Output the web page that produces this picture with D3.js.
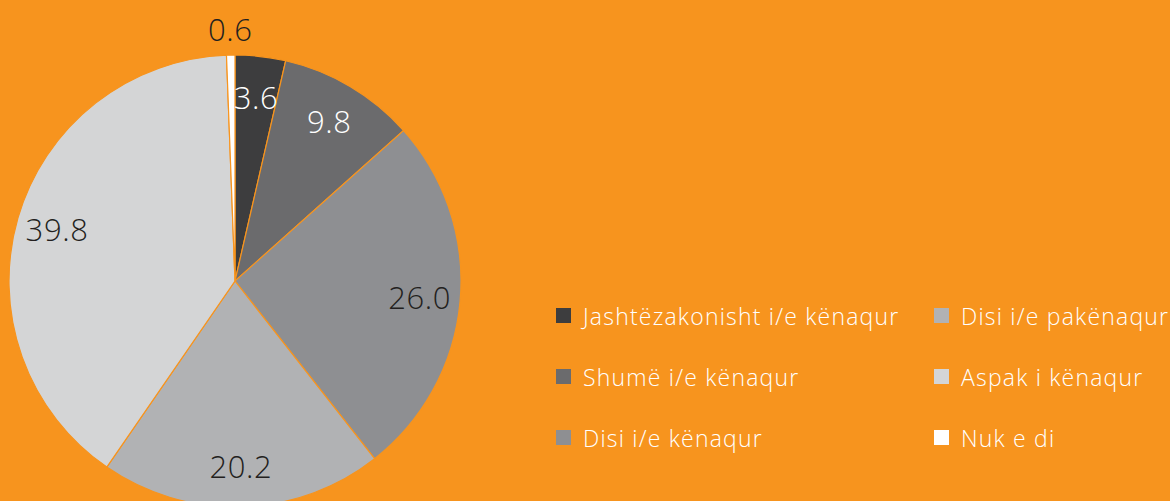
<!DOCTYPE html>
<html>
<head>
<meta charset="utf-8">
<script src="https://cdn.jsdelivr.net/npm/d3@7"></script>
<style>
  html, body { margin: 0; padding: 0; background: #f7941e; overflow: hidden; }
  text { font-family: "Open Sans", sans-serif; font-weight: 300; }
</style>
</head>
<body>
<div id="chart"></div>
<script>
// data
const categories = ["Jashtëzakonisht i/e kënaqur", "Shumë i/e kënaqur", "Disi i/e kënaqur",
                    "Disi i/e pakënaqur", "Aspak i kënaqur", "Nuk e di"];
const values = [3.6, 9.8, 26.0, 20.2, 39.8, 0.6];
const colors = ["#3d3d3e", "#6b6b6d", "#8e8f92", "#b1b2b4", "#d4d5d6", "#ffffff"];
const labelColors = ["#ffffff", "#ffffff", "#231f20", "#231f20", "#231f20", "#231f20"];

const width = 1170, height = 501;
const cx = 235, cy = 281, radius = 226;

const svg = d3.select("#chart").append("svg")
    .attr("width", width)
    .attr("height", height);

svg.append("rect").attr("width", width).attr("height", height).attr("fill", "#f7941e");

const data = categories.map((c, i) => ({name: c, value: values[i], i: i}));

const pie = d3.pie().sort(null).value(d => d.value);
const arc = d3.arc().innerRadius(0).outerRadius(radius);
const labelArc = d3.arc().innerRadius(radius * 0.82).outerRadius(radius * 0.82);
const outerArc = d3.arc().innerRadius(radius + 26).outerRadius(radius + 26);

const g = svg.append("g").attr("transform", `translate(${cx},${cy})`);

const arcs = pie(data);

g.selectAll("path.slice")
    .data(arcs)
    .enter().append("path")
    .attr("class", "slice")
    .attr("d", arc)
    .attr("fill", d => colors[d.data.i])
    .attr("stroke", "#f7941e")
    .attr("stroke-width", 1.2);

g.selectAll("text.lbl")
    .data(arcs)
    .enter().append("text")
    .attr("class", "lbl")
    .attr("transform", d => `translate(${(d.data.value < 2 ? outerArc : labelArc).centroid(d)})`)
    .attr("text-anchor", "middle")
    .attr("dominant-baseline", "central")
    .attr("fill", d => labelColors[d.data.i])
    .style("font-size", "31px")
    .style("letter-spacing", "0.6px")
    .text(d => d3.format(".1f")(d.data.value));

// legend, two columns of three
const legend = svg.append("g");
const colX = [556, 934];
const rowY = d3.scalePoint().domain([0, 1, 2]).range([316, 438]);

const items = legend.selectAll("g.item")
    .data(data)
    .enter().append("g")
    .attr("class", "item")
    .attr("transform", d => `translate(${colX[Math.floor(d.i / 3)]},${rowY(d.i % 3)})`);

items.append("rect")
    .attr("x", 0).attr("y", -8)
    .attr("width", 15).attr("height", 15)
    .attr("fill", d => colors[d.i]);

items.append("text")
    .attr("x", 27).attr("y", 0)
    .attr("dominant-baseline", "central")
    .attr("fill", "#ffffff")
    .style("font-size", "23px")
    .style("letter-spacing", "1.2px")
    .text(d => d.name);
</script>
</body>
</html>
